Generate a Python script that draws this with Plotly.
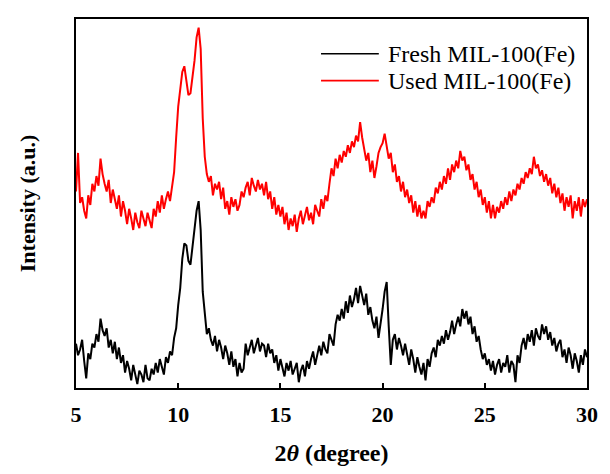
import numpy as np
import plotly.graph_objects as go

two_theta = np.round(np.arange(5.0, 30.0001, 0.1), 1)

fresh = [
46,34,40,50,28,10,36,30,46,42,
56,48,72,60,54,62,42,50,36,48,
30,42,26,34,16,28,20,8,24,12,
4,18,14,6,24,10,8,20,14,26,
16,30,22,14,32,26,38,34,52,62,
86,104,134,150,148,132,128,146,162,184,
194,164,100,76,56,62,50,44,54,38,
50,42,30,44,36,24,38,22,30,12,
26,16,20,46,34,42,50,36,44,52,
38,46,44,32,46,36,40,26,34,18,
30,22,12,26,18,28,14,20,26,6,
18,24,12,28,20,30,38,24,36,44,
34,48,40,36,56,50,44,66,76,70,
82,72,90,78,96,84,92,104,88,106,
94,86,98,76,84,70,62,74,52,66,
82,100,110,64,24,50,56,40,52,44,
34,46,36,24,40,30,16,32,22,14,
26,8,30,22,36,42,32,50,44,54,
46,60,50,58,70,56,66,74,64,82,
72,80,66,74,56,64,48,54,40,30,
36,24,30,18,28,14,24,30,16,26,
22,34,16,28,24,6,34,26,44,52,
40,56,48,60,44,62,54,50,66,56,
64,50,58,44,52,38,46,50,32,40,
26,42,34,20,36,28,16,34,24,40,
32,
]

used = [
204,244,192,198,184,176,200,190,212,204,
220,210,238,222,212,204,216,192,206,196,
186,200,178,194,184,170,186,176,164,182,
172,166,184,176,168,182,174,166,186,178,
194,182,200,186,196,204,194,210,224,260,
292,310,328,334,318,304,306,322,340,364,
374,352,280,240,222,214,220,200,212,206,
214,196,208,186,194,180,198,188,196,184,
190,204,198,208,214,200,218,210,204,216,
206,212,200,214,196,204,186,198,180,190,
178,188,170,182,164,176,168,180,162,176,
184,170,178,188,174,182,170,190,184,178,
196,186,200,194,212,228,220,238,228,242,
234,246,240,252,244,256,250,262,256,276,
260,248,236,244,224,236,218,230,244,250,
254,264,250,238,244,224,232,214,220,204,
214,198,206,192,200,182,194,178,190,176,
184,176,194,188,198,192,208,202,214,206,
220,212,228,216,232,224,236,228,246,236,
240,226,232,216,222,206,214,198,206,190,
198,182,194,176,190,176,188,182,194,186,
198,190,204,194,206,200,212,206,218,212,
224,218,228,222,240,228,232,220,226,214,
222,210,218,202,212,198,208,192,202,184,
198,188,200,176,194,184,198,178,196,188,
196,
]

series_names = ["Fresh MIL-100(Fe)", "Used MIL-100(Fe)"]
series_colors = ["#000000", "#ff0000"]
x_ticks = [5, 10, 15, 20, 25, 30]

serif = "Times New Roman, Liberation Serif, serif"

fig = go.Figure()
for name, vals, col in zip(series_names, [fresh, used], series_colors):
    fig.add_trace(go.Scatter(x=two_theta, y=vals, mode="lines", name=name,
                             line=dict(color=col, width=2), showlegend=False))

# custom legend (long line samples like the original)
leg_y = [0.906, 0.833]
for name, col, yy in zip(series_names, series_colors, leg_y):
    fig.add_shape(type="line", xref="paper", yref="paper", x0=0.4795, x1=0.5926,
                  y0=yy, y1=yy, line=dict(color=col, width=1.6))
    fig.add_annotation(xref="paper", yref="paper", x=0.606, y=yy, text=name,
                       showarrow=False, xanchor="left", yanchor="middle",
                       font=dict(family=serif, size=24, color="#000000"))

fig.update_layout(
    width=610, height=474,
    margin=dict(l=76, r=21, t=19, b=72),
    paper_bgcolor="white", plot_bgcolor="white",
    font=dict(family=serif, color="#000000"),
)
fig.update_xaxes(
    range=[5, 30], tickvals=x_ticks, ticktext=[str(t) for t in x_ticks],
    ticks="inside", ticklen=5, tickwidth=1.5, tickcolor="black",
    showline=True, linecolor="black", linewidth=1.8, mirror=True,
    showgrid=False, zeroline=False, ticklabelstandoff=6,
    tickfont=dict(family=serif, size=22, weight="bold"),
    title=dict(text="2<i>θ</i> (degree)", font=dict(family=serif, size=24, weight="bold"), standoff=18),
)
fig.update_yaxes(
    range=[0, 383], showticklabels=False, ticks="",
    showline=True, linecolor="black", linewidth=1.8, mirror=True,
    showgrid=False, zeroline=False,
    title=dict(text="Intensity (a.u.)", font=dict(family=serif, size=22, weight="bold"), standoff=32),
)

fig.write_html("out.html")
